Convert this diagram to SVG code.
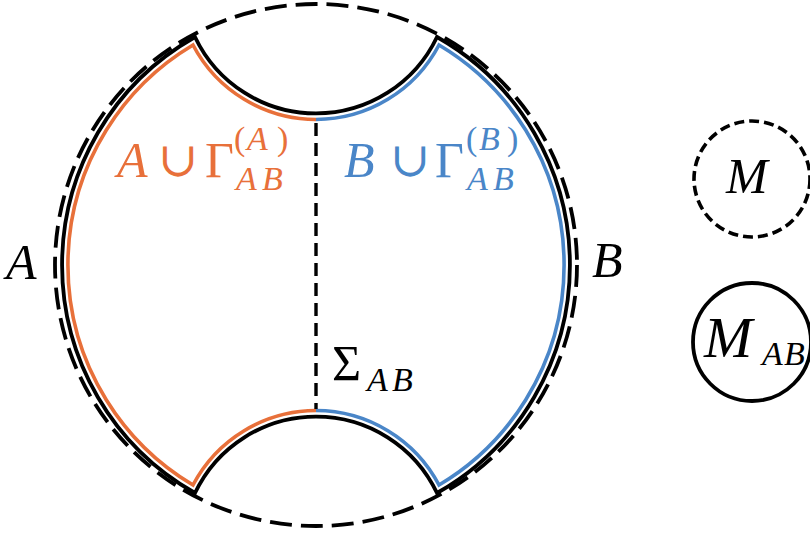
<svg xmlns="http://www.w3.org/2000/svg" width="810" height="534" viewBox="0 0 810 534">
<style>
.bg{fill:#ffffff}
.dash{fill:none;stroke:#000;stroke-width:3.8;stroke-dasharray:22 9}
.solid{fill:none;stroke:#000;stroke-width:3.8;stroke-linejoin:miter}
.orange{fill:none;stroke:#E8703A;stroke-width:3.6}
.blue{fill:none;stroke:#4A86C8;stroke-width:3.6}
.cut{fill:none;stroke:#000;stroke-width:3.4;stroke-dasharray:13 7}
.sdash{fill:none;stroke:#000;stroke-width:3.6;stroke-dasharray:10 5}
.t{font-family:"Liberation Serif",serif;font-style:italic;font-size:50px;fill:#000}
.up{font-style:normal}
.cup{font-family:"DejaVu Serif",serif;font-style:normal;font-size:48px}
.s{font-size:34px}
.to{fill:#E8703A}
.tb{fill:#4A86C8}
</style>
<rect class="bg" x="0" y="0" width="810" height="534"/>
<g id="M-boundary">
<circle class="dash" cx="316" cy="265" r="261"/>
</g>
<g id="region">
<path class="solid" d="M195,37 A134,134 0 0 0 437,37 A262,262 0 0 1 437,493 A134,134 0 0 0 195,493 A262,262 0 0 1 195,37 Z"/>
</g>
<g id="regionA">
<path class="orange" d="M316,119.5 A139.5,139.5 0 0 1 193,45 A256,256 0 0 0 193,485 A139.5,139.5 0 0 1 316,410.5"/>
</g>
<g id="regionB">
<path class="blue" d="M316,119.5 A139.5,139.5 0 0 0 439,45 A256,256 0 0 1 439,485 A139.5,139.5 0 0 0 316,410.5"/>
</g>
<g id="connectors">
<line class="cut" x1="316" y1="123" x2="316" y2="409"/>
</g>
<g id="labelA"><text class="t" x="6" y="279">A</text></g>
<g id="labelB"><text class="t" x="592" y="277">B</text></g>
<g id="labelAGamma">
<text class="t to"><tspan x="117" y="177">A</tspan><tspan class="cup" x="158" y="176">∪</tspan><tspan class="up" x="205" y="177">Γ</tspan><tspan class="up s" x="234" y="150">(</tspan><tspan class="s" x="247" y="150">A</tspan><tspan class="up s" x="277" y="150">)</tspan><tspan class="s" x="236" y="190">A</tspan><tspan class="s" x="262" y="190">B</tspan></text>
</g>
<g id="labelBGamma">
<text class="t tb"><tspan x="344" y="177">B</tspan><tspan class="cup" x="390" y="176">∪</tspan><tspan class="up" x="435" y="177">Γ</tspan><tspan class="up s" x="466" y="150">(</tspan><tspan class="s" x="479" y="150">B</tspan><tspan class="up s" x="507" y="150">)</tspan><tspan class="s" x="467" y="190">A</tspan><tspan class="s" x="493" y="190">B</tspan></text>
</g>
<g id="labelSigma">
<text class="t"><tspan class="up" x="332" y="380">Σ</tspan><tspan class="s" x="367" y="391">A</tspan><tspan class="s" x="392" y="391">B</tspan></text>
</g>
<g id="nodeM">
<circle class="sdash" cx="752" cy="179" r="58"/>
<text class="t" font-size="56" x="726" y="193">M</text>
</g>
<g id="nodeMAB">
<circle class="solid" cx="752" cy="342" r="59"/>
<text class="t"><tspan x="704" y="357" font-size="58">M</tspan><tspan class="s" x="762" y="365">A</tspan><tspan class="s" x="784" y="365">B</tspan></text>
</g>
</svg>
